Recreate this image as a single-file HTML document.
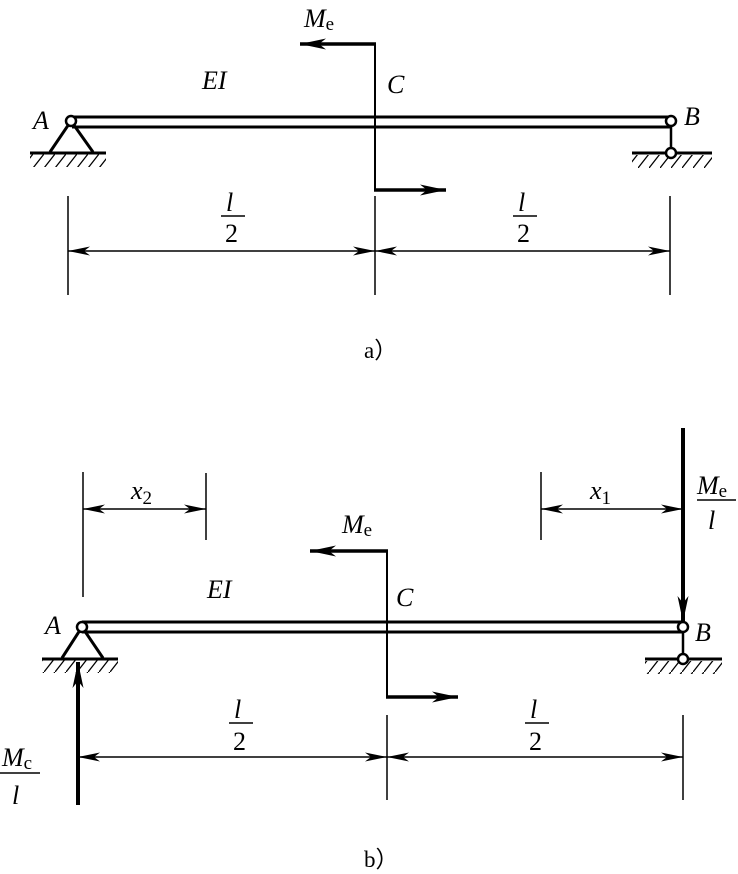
<!DOCTYPE html>
<html><head><style>body{margin:0;background:#fff}svg{display:block}text{font-family:"Liberation Serif",serif;fill:#000}</style></head>
<body>
<svg width="738" height="874" viewBox="0 0 738 874" xmlns="http://www.w3.org/2000/svg">
<defs>
<marker id="ar" viewBox="0 0 22 9" refX="22" refY="4.5" markerWidth="22" markerHeight="9" markerUnits="userSpaceOnUse" orient="auto-start-reverse"><path d="M0,0 L22,4.5 L0,9 L6,4.5 Z" fill="#000"/></marker>
<marker id="ab" viewBox="0 0 26 11" refX="26" refY="5.5" markerWidth="26" markerHeight="11" markerUnits="userSpaceOnUse" orient="auto"><path d="M0,0 L26,5.5 L0,11 L7,5.5 Z" fill="#000"/></marker>
<pattern id="h" width="11" height="14" patternUnits="userSpaceOnUse"><line x1="11" y1="0" x2="0" y2="14" stroke="#000" stroke-width="1.3"/></pattern>
</defs>
<g stroke="#000" fill="none">
<line x1="72" y1="117" x2="671" y2="117" stroke-width="3"/>
<line x1="72" y1="127" x2="671" y2="127" stroke-width="3"/>
<path d="M71,121 L50,152 M71,121 L93,152" stroke-width="3"/>
<line x1="30" y1="153" x2="106" y2="153" stroke-width="3"/>
<rect x="30" y="154" width="76" height="13" fill="url(#h)" stroke="none"/>
<circle cx="71" cy="121" r="5" fill="#fff" stroke-width="2.5"/>
<line x1="671" y1="122" x2="671" y2="153" stroke-width="2.5"/>
<line x1="632" y1="153" x2="712" y2="153" stroke-width="3"/>
<rect x="632" y="155" width="80" height="13" fill="url(#h)" stroke="none"/>
<circle cx="671" cy="121" r="5" fill="#fff" stroke-width="2.5"/>
<circle cx="671" cy="153" r="5" fill="#fff" stroke-width="2.5"/>
<line x1="375" y1="44" x2="375" y2="190" stroke-width="2"/>
<line x1="376" y1="44" x2="300" y2="44" stroke-width="3.5" marker-end="url(#ab)"/>
<line x1="374" y1="190" x2="446" y2="190" stroke-width="3.5" marker-end="url(#ab)"/>
<g stroke-width="1.5">
<line x1="68" y1="196" x2="68" y2="295"/><line x1="375" y1="196" x2="375" y2="295"/><line x1="670" y1="196" x2="670" y2="295"/>
<line x1="68" y1="251" x2="375" y2="251" marker-start="url(#ar)" marker-end="url(#ar)"/>
<line x1="375" y1="251" x2="670" y2="251" marker-start="url(#ar)" marker-end="url(#ar)"/>
<line x1="221" y1="216" x2="245" y2="216"/><line x1="513" y1="216" x2="537" y2="216"/>
</g>
<line x1="82" y1="622" x2="683" y2="622" stroke-width="3"/>
<line x1="82" y1="632" x2="683" y2="632" stroke-width="3"/>
<path d="M82,627 L62,658 M82,627 L103,658" stroke-width="3"/>
<line x1="42" y1="659" x2="118" y2="659" stroke-width="3"/>
<rect x="42" y="660" width="76" height="13" fill="url(#h)" stroke="none"/>
<circle cx="82" cy="627" r="5" fill="#fff" stroke-width="2.5"/>
<line x1="683" y1="628" x2="683" y2="659" stroke-width="2.5"/>
<line x1="645" y1="659" x2="722" y2="659" stroke-width="3"/>
<rect x="645" y="661" width="77" height="13" fill="url(#h)" stroke="none"/>
<line x1="683" y1="428" x2="683" y2="622" stroke-width="4" marker-end="url(#ab)"/>
<circle cx="683" cy="627" r="5" fill="#fff" stroke-width="2.5"/>
<circle cx="683" cy="659" r="5" fill="#fff" stroke-width="2.5"/>
<line x1="78" y1="805" x2="78" y2="662" stroke-width="4" marker-end="url(#ab)"/>
<line x1="387" y1="551" x2="387" y2="697" stroke-width="2"/>
<line x1="388" y1="551" x2="310" y2="551" stroke-width="3.5" marker-end="url(#ab)"/>
<line x1="386" y1="697" x2="458" y2="697" stroke-width="3.5" marker-end="url(#ab)"/>
<g stroke-width="1.5">
<line x1="83" y1="472" x2="83" y2="597"/><line x1="206" y1="473" x2="206" y2="540"/>
<line x1="83" y1="509" x2="206" y2="509" marker-start="url(#ar)" marker-end="url(#ar)"/>
<line x1="541" y1="472" x2="541" y2="540"/>
<line x1="541" y1="509" x2="683" y2="509" marker-start="url(#ar)" marker-end="url(#ar)"/>
<line x1="387" y1="715" x2="387" y2="800"/><line x1="683" y1="715" x2="683" y2="800"/>
<line x1="78" y1="757" x2="387" y2="757" marker-start="url(#ar)" marker-end="url(#ar)"/>
<line x1="387" y1="757" x2="683" y2="757" marker-start="url(#ar)" marker-end="url(#ar)"/>
<line x1="229" y1="723" x2="253" y2="723"/><line x1="525" y1="723" x2="549" y2="723"/>
<line x1="697" y1="500" x2="736" y2="500"/><line x1="0" y1="773" x2="40" y2="773"/>
</g>
</g>
<g font-size="26">
<text x="304" y="27" font-style="italic">M<tspan font-style="normal" font-size="19" dy="3">e</tspan></text>
<text x="202" y="89" font-style="italic">EI</text>
<text x="387" y="93" font-style="italic">C</text>
<text x="33" y="129" font-style="italic">A</text>
<text x="684" y="125" font-style="italic">B</text>
<text x="226" y="211" font-style="italic">l</text><text x="225" y="242">2</text>
<text x="518" y="211" font-style="italic">l</text><text x="517" y="242">2</text>
<text x="364" y="358" font-size="23">a）</text>
<text x="131" y="499" font-style="italic">x<tspan font-style="normal" font-size="19" dy="5">2</tspan></text>
<text x="590" y="499" font-style="italic">x<tspan font-style="normal" font-size="19" dy="5">1</tspan></text>
<text x="697" y="494" font-style="italic">M<tspan font-style="normal" font-size="19" dy="3">e</tspan></text>
<text x="708" y="529" font-style="italic">l</text>
<text x="342" y="533" font-style="italic">M<tspan font-style="normal" font-size="19" dy="3">e</tspan></text>
<text x="207" y="598" font-style="italic">EI</text>
<text x="396" y="606" font-style="italic">C</text>
<text x="45" y="634" font-style="italic">A</text>
<text x="695" y="641" font-style="italic">B</text>
<text x="234" y="718" font-style="italic">l</text><text x="233" y="750">2</text>
<text x="530" y="718" font-style="italic">l</text><text x="529" y="750">2</text>
<text x="2" y="766" font-style="italic">M<tspan font-style="normal" font-size="19" dy="3">c</tspan></text>
<text x="12" y="804" font-style="italic">l</text>
<text x="364" y="867" font-size="23">b）</text>
</g>
</svg>
</body></html>
